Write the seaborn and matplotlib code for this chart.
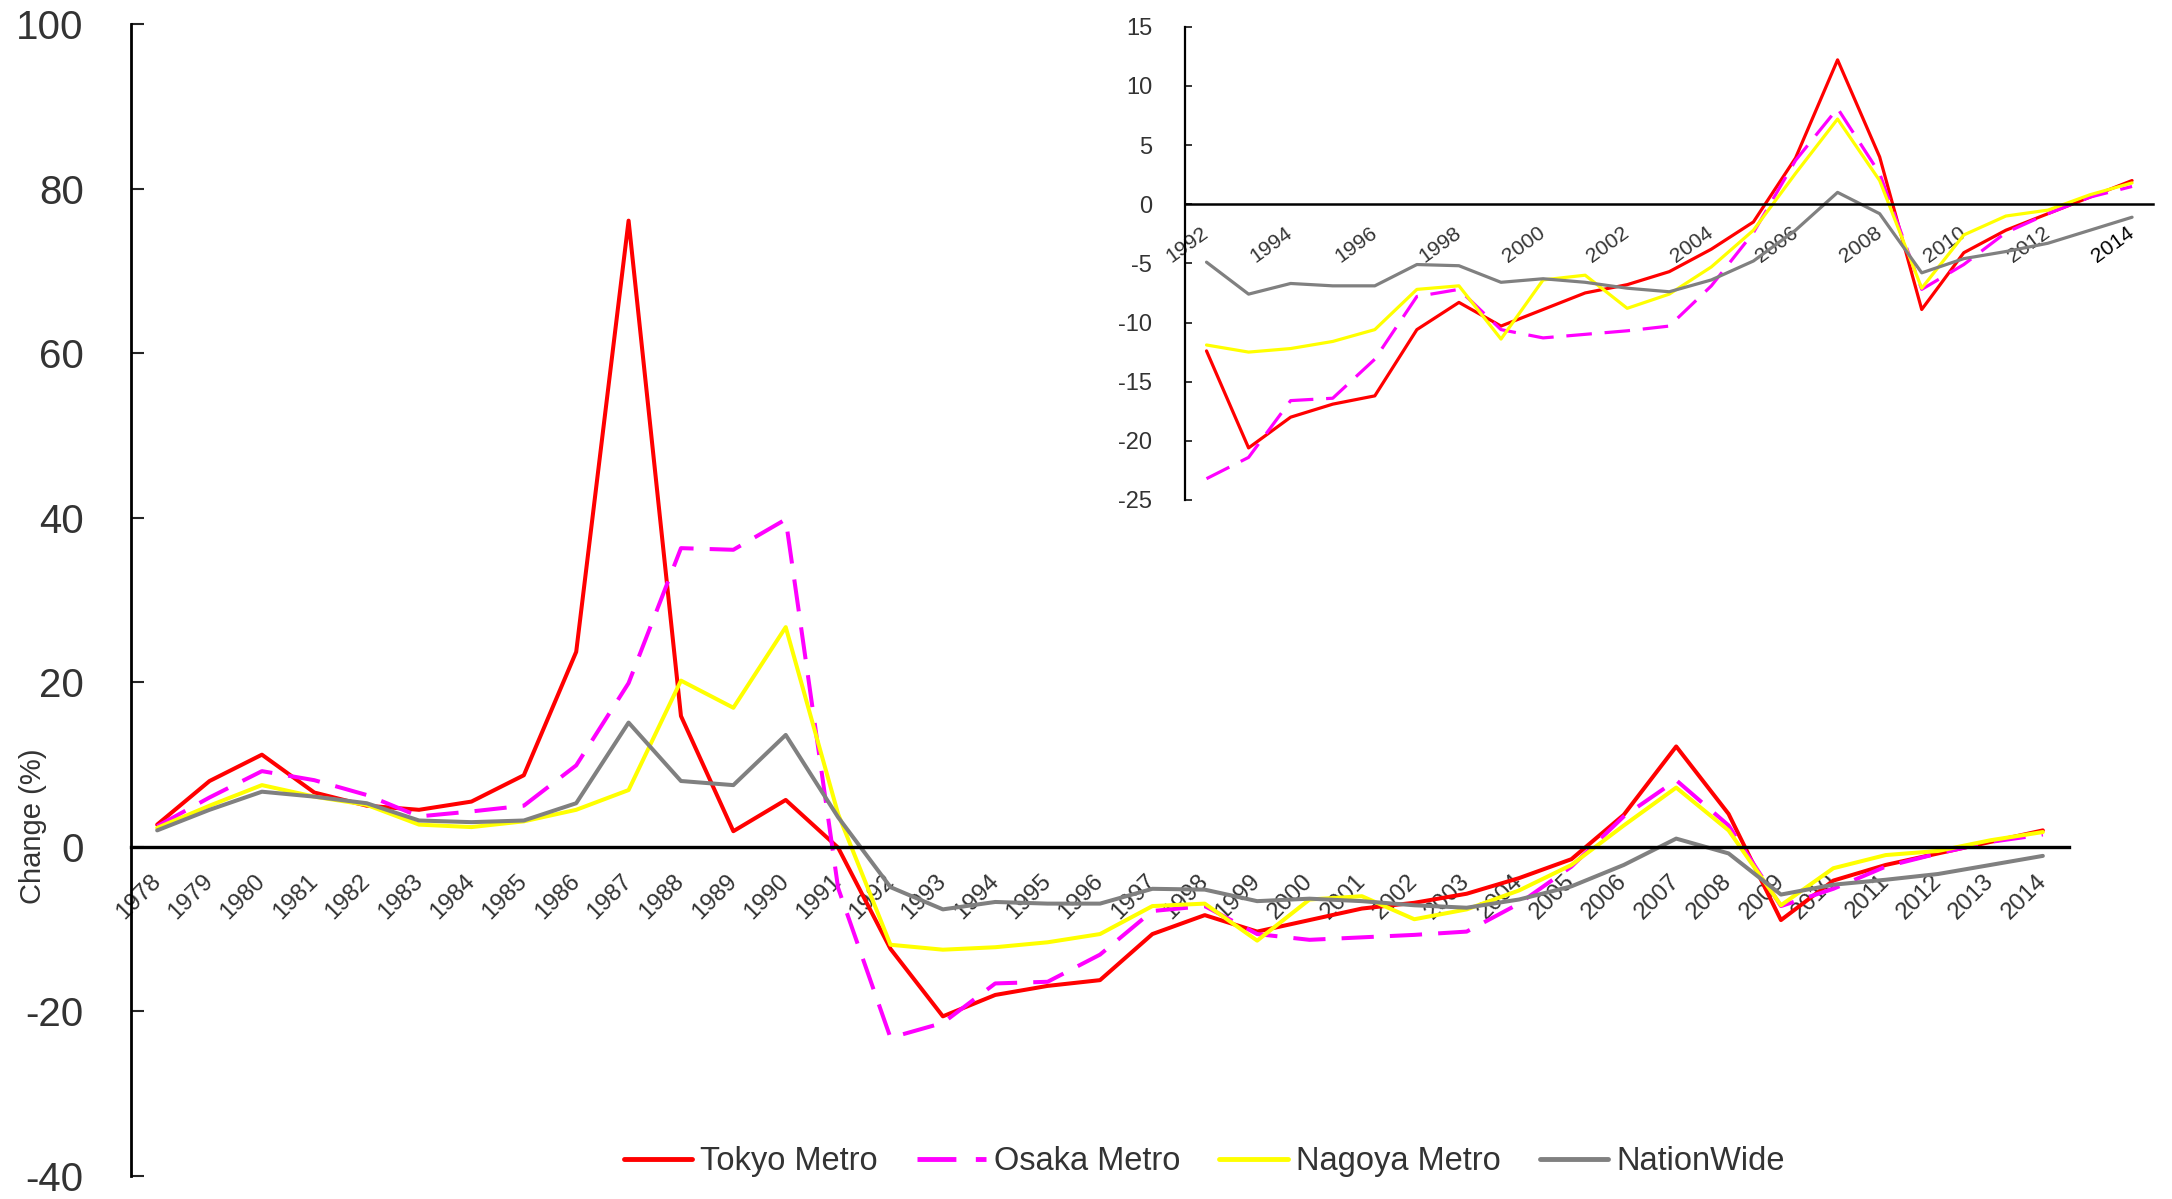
import matplotlib

matplotlib.use('Agg')
import matplotlib.pyplot as plt
import numpy as np
import pandas as pd
import seaborn as sns
from matplotlib.ticker import FixedLocator

years = list(range(1978, 2015))
series_names = ['Tokyo Metro', 'Osaka Metro', 'Nagoya Metro', 'NationWide']

tokyo = [2.7, 8.0, 11.2, 6.6, 5.0, 4.5, 5.5, 8.7, 23.7, 76.1, 15.9, 1.9, 5.7, -0.1,
         -12.4, -20.6, -18.0, -16.9, -16.2, -10.6, -8.3, -10.3, -8.9, -7.5, -6.8, -5.7,
         -3.8, -1.5, 3.9, 12.2, 4.0, -8.9, -4.1, -2.2, -0.8, 0.6, 2.0]
osaka = [2.5, 6.0, 9.2, 8.1, 6.3, 3.7, 4.3, 5.0, 9.9, 19.9, 36.3, 36.1, 39.8, -5.0,
         -23.2, -21.4, -16.6, -16.4, -13.1, -7.8, -7.2, -10.6, -11.3, -11.0, -10.7, -10.3,
         -6.9, -2.4, 3.7, 8.1, 2.6, -7.2, -5.1, -2.4, -0.8, 0.6, 1.5]
nagoya = [2.3, 5.0, 7.5, 6.1, 5.1, 2.7, 2.4, 3.1, 4.5, 6.9, 20.2, 16.9, 26.7, 4.0,
          -11.9, -12.5, -12.2, -11.6, -10.6, -7.2, -6.9, -11.4, -6.4, -6.0, -8.8, -7.6,
          -5.3, -2.2, 2.6, 7.2, 2.0, -7.1, -2.6, -1.0, -0.5, 0.8, 1.8]
nationwide = [2.0, 4.5, 6.7, 6.1, 5.3, 3.2, 3.0, 3.2, 5.3, 15.1, 8.0, 7.5, 13.6, 3.6,
              -4.9, -7.6, -6.7, -6.9, -6.9, -5.1, -5.2, -6.6, -6.3, -6.6, -7.1, -7.4,
              -6.4, -4.8, -2.2, 1.0, -0.8, -5.8, -4.6, -4.0, -3.3, -2.2, -1.1]

main_yticks = [-40, -20, 0, 20, 40, 60, 80, 100]
inset_start = 1992
inset_yticks = [-25, -20, -15, -10, -5, 0, 5, 10, 15]

df = pd.DataFrame({
    'year': years * 4,
    'series': np.repeat(series_names, len(years)),
    'change': tokyo + osaka + nagoya + nationwide,
})
inset_df = df[df['year'] >= inset_start]

palette = {'Tokyo Metro': '#FF0000', 'Osaka Metro': '#FF00FF',
           'Nagoya Metro': '#FFFF00', 'NationWide': '#808080'}
dashes = {'Tokyo Metro': '', 'Osaka Metro': (8, 4), 'Nagoya Metro': '', 'NationWide': ''}

sns.set_style('white')
plt.rcParams['font.family'] = ['Liberation Sans', 'DejaVu Sans']
plt.rcParams['axes.unicode_minus'] = False
text_color = '#333333'


def style_axes(a, lw_bottom, lw_left):
    for side in ['top', 'right']:
        a.spines[side].set_visible(False)
    a.spines['bottom'].set_position(('data', 0))
    a.spines['bottom'].set_linewidth(lw_bottom)
    a.spines['left'].set_linewidth(lw_left)
    a.spines['bottom'].set_color('black')
    a.spines['left'].set_color('black')
    a.set_xlabel('')


fig = plt.figure(figsize=(21.72, 11.99), dpi=100)

# main chart
ax = fig.add_axes([0.0603, 0.0192, 0.8923, 0.9608])
sns.lineplot(data=df, x='year', y='change', hue='series', style='series',
             hue_order=series_names, style_order=series_names,
             palette=palette, dashes=dashes, linewidth=2.9, ax=ax)
style_axes(ax, 2.4, 2.0)
ax.set_xlim(years[0] - 0.5, years[-1] + 0.5)
ax.set_ylim(-40, 100)
ax.set_yticks(main_yticks)
ax.set_xticks(years)
ax.set_xticklabels([str(y) for y in years])
ax.xaxis.set_minor_locator(FixedLocator([y + 0.5 for y in years]))
ax.tick_params(axis='x', which='major', length=0, pad=22.7, labelsize=17.3,
               labelcolor=text_color, labelrotation=45)
ax.tick_params(axis='x', which='minor', direction='in', length=6, width=1.5, color='black')
ax.tick_params(axis='y', direction='in', length=9, width=1.5, pad=34, labelsize=29,
               labelcolor=text_color, left=True)
plt.setp(ax.get_xticklabels(), ha='right', va='center', rotation_mode='anchor')
ax.set_ylabel('Change (%)', fontsize=21, color=text_color)
ax.yaxis.set_label_coords(-0.0435, 0.304)

handles, labels = ax.get_legend_handles_labels()
pairs = [(h, l) for h, l in zip(handles, labels) if l in series_names]
for h, _ in pairs:
    h.set_linewidth(3.5)
ax.get_legend().remove()
fig.legend([h for h, _ in pairs], [l for _, l in pairs], loc='center',
           bbox_to_anchor=(0.5545, 0.031), ncol=4, frameon=False, fontsize=23.5,
           handlelength=2.1, handletextpad=0.25, columnspacing=1.2, labelcolor=text_color)

# inset chart
ins = fig.add_axes([0.5458, 0.583, 0.4455, 0.3947])
inset_years = [y for y in years if y >= inset_start]
sns.lineplot(data=inset_df, x='year', y='change', hue='series', style='series',
             hue_order=series_names, style_order=series_names,
             palette=palette, dashes=dashes, linewidth=2.3, legend=False, ax=ins)
style_axes(ins, 1.8, 1.6)
ins.set_facecolor('none')
ins.set_ylabel('')
ins.set_xlim(inset_start - 0.5, years[-1] + 0.5)
ins.set_ylim(-25, 15)
ins.set_yticks(inset_yticks)
ins.set_xticks(inset_years[::2])
ins.set_xticklabels([str(y) for y in inset_years[::2]])
ins.xaxis.set_minor_locator(FixedLocator([y + 0.5 for y in inset_years]))
ins.tick_params(axis='x', which='major', length=0, pad=19, labelsize=15.2,
                labelcolor=text_color, labelrotation=36)
ins.tick_params(axis='x', which='minor', direction='in', length=6, width=1.3, color='black')
ins.tick_params(axis='y', direction='in', length=5, width=1.3, pad=24, labelsize=17,
                labelcolor=text_color, left=True)
plt.setp(ins.get_xticklabels(), ha='right', va='center', rotation_mode='anchor')
ins.get_xticklabels()[-1].set_color('black')

fig.savefig('out.png', dpi=100)
plt.close(fig)
